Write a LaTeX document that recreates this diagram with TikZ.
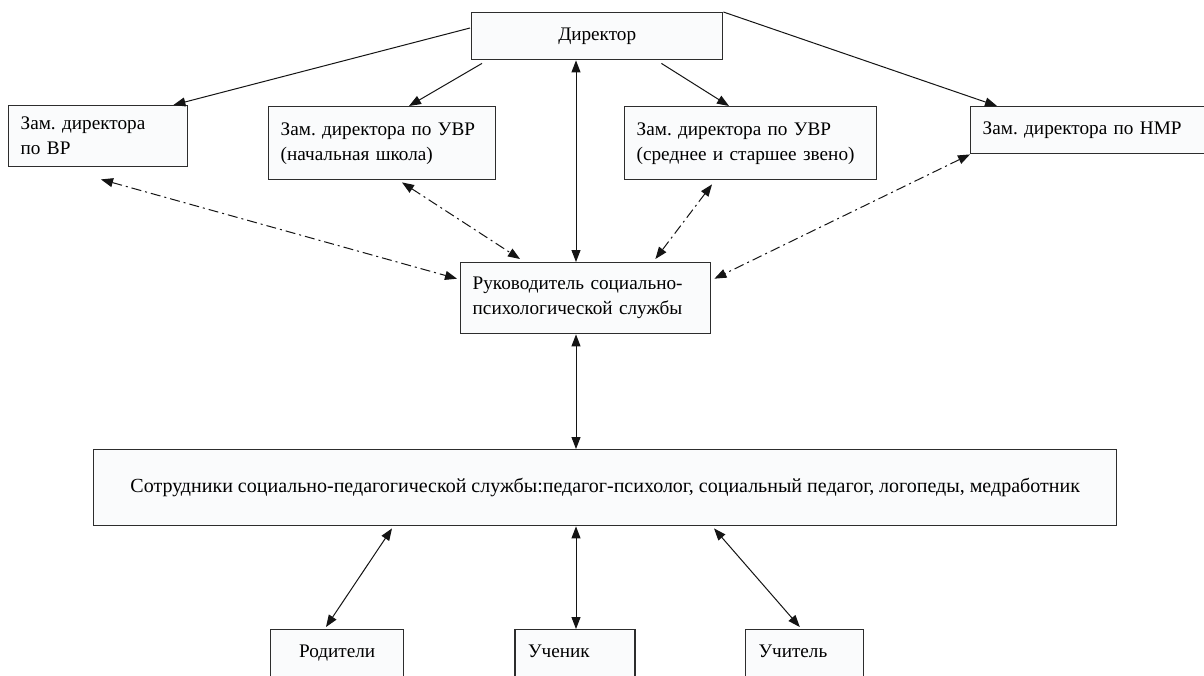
\documentclass[tikz,border=0pt]{standalone}
\usepackage{fontspec}
\setmainfont{Liberation Serif}
\usepackage{tikz}
\usetikzlibrary{arrows.meta, positioning, calc}
\definecolor{boxline}{RGB}{45,45,45}
\definecolor{boxfill}{RGB}{250,251,252}
\definecolor{arrowgray}{RGB}{20,20,20}
\frenchspacing
\tikzset{
  block/.style={rectangle, draw=boxline, fill=boxfill, line width=0.7pt,
    anchor=north west, inner xsep=6pt, inner ysep=2pt},
  zamblock/.style={block, align=left},
  pupilblock/.style={block, align=left, inner xsep=6.5pt, inner ysep=7pt,
    text height=7pt, text depth=30pt},
  arrow/.style={-{Triangle[length=6pt, width=4.5pt]}, line width=0.5pt,
    color=arrowgray},
  dblarrow/.style={{Triangle[length=6pt, width=4.5pt]}-{Triangle[length=6pt, width=4.5pt]},
    line width=0.5pt, color=arrowgray},
  linkarrow/.style={dblarrow, dash pattern=on 5pt off 2pt on 1pt off 2pt},
}

\begin{document}
\begin{tikzpicture}[x=0.5pt, y=-0.5pt, font=\fontsize{9.6}{12.5}\selectfont]

  \clip (0,0) rectangle (1204,675);
  \fill[white] (0,0) rectangle (1204,675);

  %% Director
  \node[block, minimum width=125.5pt, minimum height=23.5pt] (dir) at (471,12)
    {Директор};

  %% Deputies
  \node[zamblock, text width=77.5pt, minimum height=30.5pt] (zvr) at (8,105)
    {Зам. директора\\по ВР};
  \node[zamblock, text width=101.5pt, minimum height=36.5pt] (zuvrn) at (268,106)
    {Зам. директора по УВР\\(начальная школа)};
  \node[zamblock, text width=114pt, minimum height=36.5pt] (zuvrs) at (624,106)
    {Зам. директора по УВР\\(среднее и старшее звено)};
  \node[zamblock, text width=113pt, minimum height=23.5pt] (znmr) at (970,106)
    {Зам. директора по НМР};

  %% Head of the service
  \node[zamblock, text width=113pt, minimum height=35.5pt] (ruk) at (460,262)
    {Руководитель социально-\\психологической службы};

  %% Staff
  \node[block, minimum width=511.5pt, minimum height=38pt,
    font=\fontsize{10}{12.5}\selectfont] (sotr) at (93,449)
    {Сотрудники социально-педагогической службы:педагог-психолог, социальный педагог, логопеды, медработник};

  %% Parents, pupil, teacher
  \node[pupilblock, text width=53.5pt, align=center] (rod) at (270,629) {Родители};
  \node[pupilblock, text width=47pt, right=55pt of rod] (uch) {Ученик};
  \node[pupilblock, text width=46pt, right=54.5pt of uch] (ucht) {Учитель};

  \coordinate (axis) at (576,0);

  %% Director -> deputies
  \draw[arrow] ($(dir.north west)+(-1,16)$) -- ($(zvr.north east)+(-15,0)$);
  \draw[arrow] ($(dir.south west)+(11,3)$) -- ($(zuvrn.north west)+(141,0)$);
  \draw[arrow] ($(dir.south east)+(-62,3)$) -- ($(zuvrs.north west)+(105,0)$);
  \draw[arrow] (dir.north east) -- ($(znmr.north west)+(27,0)$);
  \draw[dblarrow] (dir.south -| axis) -- (ruk.north -| axis);

  %% Deputies <-> head
  \draw[linkarrow] ($(zvr.south west)+(93,12)$) -- ($(ruk.west)+(-3,-19.5)$);
  \draw[linkarrow] ($(zuvrn.south west)+(134,2)$) -- ($(ruk.north west)+(60,-3)$);
  \draw[linkarrow] ($(zuvrs.south west)+(88,4)$) -- ($(ruk.north east)+(-56,-3)$);
  \draw[linkarrow] (znmr.south west) -- ($(ruk.east)+(3,-19.5)$);

  %% Head <-> staff <-> parents, pupil, teacher
  \draw[dblarrow] (ruk.south -| axis) -- (sotr.north -| axis);
  \draw[dblarrow] ($(sotr.south west)+(299,2)$) -- ($(rod.north west)+(56,-2)$);
  \draw[dblarrow] (sotr.south -| axis) -- (uch.north -| axis);
  \draw[dblarrow] ($(sotr.south west)+(621,2)$) -- ($(ucht.north west)+(55,-2)$);

\end{tikzpicture}
\end{document}
